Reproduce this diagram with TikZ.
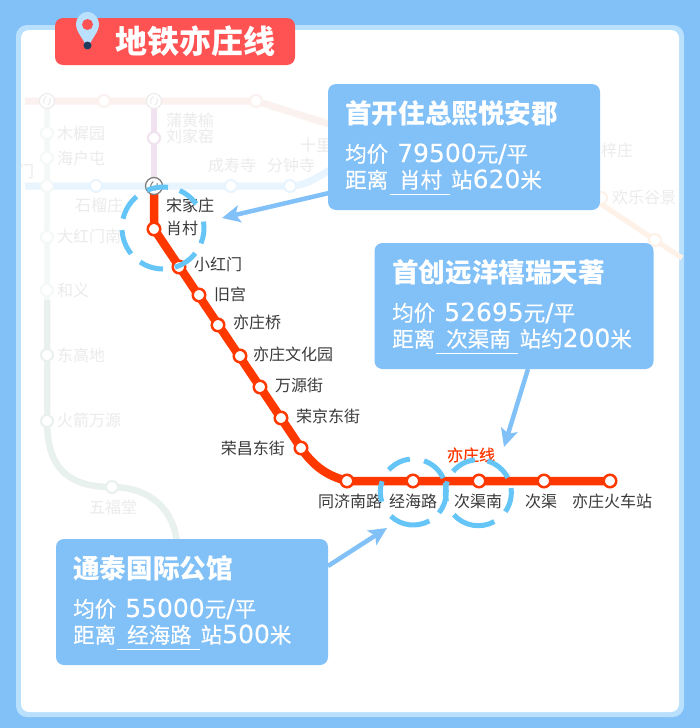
\documentclass[tikz,border=0pt]{standalone}
\usepackage{fontspec}
\setmainfont{Noto Sans CJK SC}
\newfontfamily\medcjk[FakeBold=0.5]{Noto Sans CJK SC}
\newfontfamily\dgtfont[FakeBold=0.15]{DejaVu Sans}
\newcommand{\dgt}[1]{{\dgtfont\fontsize{25}{25}\selectfont #1}}
\usetikzlibrary{arrows.meta}
\definecolor{bgblue}{HTML}{82C1F7}
\definecolor{edgeblue}{HTML}{B9E0FD}
\definecolor{titlered}{HTML}{FF5252}
\definecolor{linered}{HTML}{FF3800}
\definecolor{ringblue}{HTML}{66C5F7}
\definecolor{labgrey}{HTML}{3A3A3A}
\definecolor{fadegrey}{HTML}{EBEBEB}
\definecolor{fadegreenA}{HTML}{F4F8F7}
\definecolor{fadegreenB}{HTML}{E9F1EE}
\definecolor{fadeblue}{HTML}{E8F5FF}
\definecolor{fadepink}{HTML}{F0E2EE}
\definecolor{fadered}{HTML}{FBF1EE}
\definecolor{fadeorange}{HTML}{FEF1E8}
\definecolor{pindark}{HTML}{1F3E5F}
\tikzset{
  x=1pt,y=-1pt,
  panel/.style={fill=bgblue,rounded corners=8pt,draw=none,inner sep=0pt,minimum height=126pt},
  station/.style={circle,draw=linered,fill=white,line width=2.5pt,minimum size=12.5pt,inner sep=0pt},
  fstation/.style={circle,fill=white,draw=#1,line width=2pt,minimum size=12pt,inner sep=0pt},
  fswap/.style={circle,fill=white,draw=fadegrey,line width=1pt,minimum size=15pt,inner sep=0pt},
  stlab/.style={text=labgrey,font=\fontsize{16}{16}\selectfont,inner sep=0pt},
  flab/.style={text=fadegrey,font=\fontsize{16}{16}\selectfont,inner sep=0pt},
  ringarc/.style={draw=ringblue,line width=5pt},
  callout/.style={-{Stealth[length=18pt,width=17pt,inset=4pt]},draw=bgblue,line width=4.5pt},
  head/.style={text=white,anchor=west,inner sep=0pt,font=\fontsize{26.6}{27}\selectfont\bfseries},
  info/.style={text=white,anchor=base west,inner sep=0pt,font=\medcjk\fontsize{21.5}{22}\selectfont},
  uline/.style={draw=white,line width=0.8pt},
}
\newcommand{\ringset}[4]{% cx, cy, r, list of start/end
  \foreach \sa/\ea in {#4}{\draw[ringarc] (#1,#2) ++(\sa:#3) arc[start angle=\sa,end angle=\ea,radius=#3];}}
\begin{document}
\begin{tikzpicture}
\useasboundingbox (0,0) rectangle (700,728);
\fill[bgblue] (0,0) rectangle (700,728);
\fill[edgeblue,rounded corners=11pt] (16,25) rectangle (684,717);
\fill[white,rounded corners=8pt] (21,30) rectangle (679,712);

% faded background lines
\draw[fadered,line width=7pt] (25,101) -- (256,101) -- (335,126);
\draw[fadeblue,line width=7pt] (25,186) -- (290,186) .. controls (306,186) and (316,178) .. (335,167);
\draw[fadepink,line width=6pt] (154,101) -- (154,186);
\draw[fadegreenA,line width=6.5pt] (47,101) -- (47,300);
\draw[fadegreenB,line width=6.5pt] (47,300) -- (47,421) .. controls (47,470) and (70,487) .. (112,487) .. controls (150,487) and (175,510) .. (177,545);
\draw[fadeorange,line width=5pt] (598,202) -- (682,258);
\node[fswap] (f1) at (47,101) {};
\node[fstation=fadered] (f2) at (104,101) {};
\node[fswap] (f3) at (154,101) {};
\node[fstation=fadered] (f4) at (256,101) {};
\node[fstation=fadepink] (f5) at (154,138) {};
\node[fstation=fadegreenA] (f6) at (47,133) {};
\node[fstation=fadegreenA] (f7) at (47,158) {};
\node[fstation=fadegreenA] (f8) at (47,186) {};
\node[fstation=fadeblue] (f9) at (96,186) {};
\node[fstation=fadeblue] (f10) at (231,186) {};
\node[fstation=fadeblue] (f11) at (290,186) {};
\node[fstation=fadegreenA] (f12) at (47,237) {};
\node[fstation=fadegreenA] (f13) at (47,290) {};
\node[fstation=fadegreenB] (f14) at (47,355) {};
\node[fstation=fadegreenB] (f15) at (47,421) {};
\node[fstation=fadegreenB] (f16) at (112,487) {};
\node[fstation=fadeorange] (f17) at (601,198) {};
\node[fstation=fadeorange] (f18) at (655,240) {};
\foreach \n in {f1,f3}{
  \draw[fadegrey,line width=1pt] (\n.center) ++(-3,3) .. controls +(-2,-4) and +(1,-3) .. ++(2,-6);
  \draw[fadegrey,line width=1pt] (\n.center) ++(3,-3) .. controls +(2,4) and +(-1,3) .. ++(-2,6);
}
\node[flab] (t1) at (190,120) {蒲黄榆};
\node[flab] (t2) at (190,136) {刘家窑};
\node[flab,anchor=west] (t3) at (57,133) {木樨园};
\node[flab,anchor=west] (t4) at (57,158) {海户屯};
\node[flab] (t5) at (232,165) {成寿寺};
\node[flab] (t6) at (291,165) {分钟寺};
\node[flab] (t7) at (99,205) {石榴庄};
\node[flab,anchor=west] (t8) at (57,236) {大红门南};
\node[flab,anchor=west] (t9) at (57,290) {和义};
\node[flab,anchor=west] (t10) at (57,355) {东高地};
\node[flab,anchor=west] (t11) at (57,420) {火箭万源};
\node[flab] (t12) at (113,507) {五福堂};
\node[flab,anchor=west] (t13) at (300,145) {十里};
\node[flab,anchor=west] (t14) at (601,150) {梓庄};
\node[flab,anchor=west] (t15) at (612,197) {欢乐谷景};
\begin{scope}
\clip (21,160) rectangle (36,180);
\node[flab] (t16) at (26,171) {门};
\end{scope}

% Yizhuang line
\coordinate (p0) at (154,192);
\coordinate (p1) at (154,229);
\coordinate (p8) at (301,448);
\coordinate (p9) at (347,481);
\coordinate (p13) at (610,481);
\draw[linered,line width=8.5pt] (p0) -- (p1) -- (p8)
   .. controls (314,467) and (328,476) .. (p9) -- (p13);
\node[circle,draw=gray,fill=white,line width=1.3pt,minimum size=17pt,inner sep=0pt] (sjz) at (154,186) {};
\draw[gray,line width=1pt] (sjz.center) ++(-3,3) .. controls +(-2,-4) and +(1,-3) .. ++(2,-6);
\draw[gray,line width=1pt] (sjz.center) ++(3,-3) .. controls +(2,4) and +(-1,3) .. ++(-2,6);
\node[station] (s1) at (p1) {};
\node[station] (s2) at (179,267) {};
\node[station] (s3) at (199,295) {};
\node[station] (s4) at (218,325) {};
\node[station] (s5) at (240,356) {};
\node[station] (s6) at (260,387) {};
\node[station] (s7) at (281,418) {};
\node[station] (s8) at (p8) {};
\node[station] (s9) at (p9) {};
\node[station] (s10) at (413,481) {};
\node[station] (s11) at (479,481) {};
\node[station] (s12) at (544,481) {};
\node[station] (s13) at (p13) {};

\node[stlab,anchor=west] (l0) at (166,205) {宋家庄};
\node[stlab,anchor=west] (l1) at (166,228) {肖村};
\node[stlab,anchor=west] (l2) at (194,264) {小红门};
\node[stlab,anchor=west] (l3) at (214,294) {旧宫};
\node[stlab,anchor=west] (l4) at (233,322) {亦庄桥};
\node[stlab,anchor=west] (l5) at (253,354) {亦庄文化园};
\node[stlab,anchor=west] (l6) at (275,385) {万源街};
\node[stlab,anchor=west] (l7) at (296,416) {荣京东街};
\node[stlab,anchor=east] (l8) at (285,448) {荣昌东街};
\node[stlab] (l9) at (350,501) {同济南路};
\node[stlab] (l10) at (413,501) {经海路};
\node[stlab] (l11) at (478,501) {次渠南};
\node[stlab] (l12) at (541,501) {次渠};
\node[stlab] (l13) at (612,501) {亦庄火车站};
\node[text=linered,inner sep=0pt,font=\medcjk\fontsize{16}{16}\selectfont] (lname) at (471,455) {亦庄线};

% dashed rings
\ringset{163}{228}{41}{193/230,247/277,294/324,351/382,38/73,90/124,141/177}
\ringset{413.3}{492}{33}{222/264,289/335,344/399,61/133,163/199}
\ringset{478.3}{492.7}{33}{220/264,286/333,352/395,61/138,165/200}

% title
\node[draw=none,fill=titlered,rounded corners=8pt,minimum width=240pt,minimum height=47pt,inner sep=0pt] (title) at (175,41.5) {};
\node[text=white,inner sep=0pt,font=\fontsize{32}{32}\selectfont\bfseries] (titletxt) at (195.5,41) {地铁亦庄线};
\fill[edgeblue] (87.5,12) .. controls (80,12) and (76,19) .. (76,24) .. controls (76,33) and (84,38) .. (87.5,50)
   .. controls (91,38) and (99,33) .. (99,24) .. controls (99,19) and (95,12) .. (87.5,12) -- cycle;
\fill[titlered] (87.5,24.5) circle[radius=5.5];
\fill[pindark] (87.5,45.5) circle[radius=4];

% boxes
\node[panel,minimum width=272pt] (b1) at (464,147) {};
\node[panel,minimum width=279pt] (b2) at (514,306) {};
\node[panel,minimum width=272pt] (b3) at (192,602) {};

\node[head] (h1) at (345,113) {首开住总熙悦安郡};
\node[info] (i1a) at (345,162) {均价\hspace{9pt}\dgt{79500}元\dgt{/}平};
\node[info] (i1b) at (345,188) {距离\hspace{11pt}肖村\hspace{9pt}站\dgt{620}米};
\draw[uline] (390,194.5) -- (450,194.5);

\node[head] (h2) at (392,272) {首创远洋禧瑞天著};
\node[info] (i2a) at (392,321) {均价\hspace{9pt}\dgt{52695}元\dgt{/}平};
\node[info] (i2b) at (392,347) {距离\hspace{11pt}次渠南\hspace{9pt}站约\dgt{200}米};
\draw[uline] (436,353.5) -- (518,353.5);

\node[head] (h3) at (73,568) {通泰国际公馆};
\node[info] (i3a) at (73,617) {均价\hspace{9pt}\dgt{55000}元\dgt{/}平};
\node[info] (i3b) at (73,643) {距离\hspace{11pt}经海路\hspace{9pt}站\dgt{500}米};
\draw[uline] (117,649.5) -- (200,649.5);

% callouts
\coordinate (c1s) at (329,193);
\coordinate (c1) at (222,218);
\coordinate (c2s) at (528,369);
\coordinate (c2) at (504,447);
\coordinate (c3s) at (328,566);
\coordinate (c3) at (387,528);
\draw[callout] (c1s) -- (c1);
\draw[callout] (c2s) -- (c2);
\draw[callout] (c3s) -- (c3);
\end{tikzpicture}
\end{document}
